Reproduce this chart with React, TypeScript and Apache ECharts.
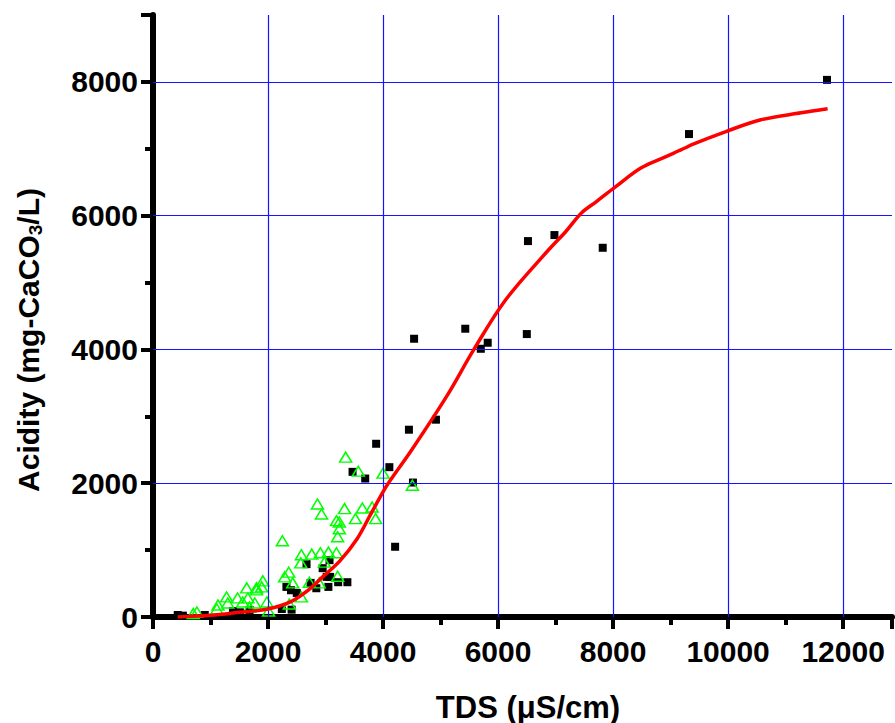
import { useEffect, useRef } from 'react';
import * as echarts from 'echarts';

const gridX = [2000, 4000, 6000, 8000, 10000, 12000];
const gridY = [2000, 4000, 6000, 8000];

const squares: [number, number][] = [
  [11720, 8030], [9320, 7220], [7820, 5520], [6980, 5710], [6520, 5620], [6500, 4230],
  [5820, 4100], [5700, 4010], [5430, 4310], [4540, 4160], [4920, 2950], [4450, 2800],
  [4520, 2010], [4110, 2240], [3880, 2590], [3690, 2070], [3470, 2170], [4210, 1050],
  [2670, 790], [2950, 730], [3070, 850], [3020, 600], [3080, 600], [3220, 520], [3380, 520],
  [3050, 450], [2840, 430], [2740, 510], [2320, 450], [2400, 400], [2500, 360], [2240, 120],
  [2410, 110], [1510, 70], [1390, 90], [1680, 105], [900, 30], [430, 30], [520, 20],
];

const triangles: [number, number][] = [
  [763, 75], [700, 50], [1110, 120], [1130, 180], [1280, 300], [1300, 210], [1470, 285],
  [1560, 225], [1630, 435], [1650, 285], [1680, 150], [1770, 210], [1800, 405], [1800, 435],
  [1890, 450], [1910, 540], [1980, 225], [2010, 90], [2290, 600], [2360, 670], [2370, 195],
  [2430, 510], [2580, 300], [2570, 810], [2580, 930], [2760, 940], [2910, 960], [3050, 970],
  [3190, 960], [2980, 820], [2890, 510], [2720, 520], [3210, 610], [2250, 1140], [3210, 1200],
  [3240, 1320], [3190, 1440], [3240, 1420], [3520, 1470], [3870, 1470], [2860, 1690],
  [2930, 1540], [3330, 1620], [3640, 1630], [3810, 1645], [3350, 2390], [3570, 2180],
  [4000, 2150], [4510, 1970],
];

const fitCurve: [number, number][] = [
  [430, 0], [1000, 25], [1500, 70], [2000, 120], [2400, 230], [2700, 400], [2950, 600],
  [3250, 840], [3550, 1170], [3800, 1560], [4000, 1870], [4100, 2010], [4500, 2500],
  [5100, 3290], [5580, 4000], [6130, 4740], [6880, 5490], [7175, 5760], [7450, 6040],
  [7710, 6210], [8040, 6430], [8490, 6716], [8910, 6880], [9260, 7015], [9360, 7060],
  [9950, 7254], [10570, 7433], [11270, 7538], [11730, 7598],
];

const FONT = "'Liberation Sans', Arial, sans-serif";

export default function App() {
  const ref = useRef<HTMLDivElement>(null);
  useEffect(() => {
    const chart = echarts.init(ref.current as HTMLDivElement, null, { renderer: 'svg' });
    const labelStyle = { fontFamily: FONT, fontWeight: 'bold' as const, fontSize: 30, color: '#000' };
    const minorAxis = (max: number, pos: string, margin: number) => ({
      type: 'value', min: 0, max, interval: 1000, position: pos,
      axisLine: { show: true, onZero: false, lineStyle: { color: '#000', width: 6 } },
      axisTick: { show: true, inside: false, length: 8, lineStyle: { color: '#000', width: 4 } },
      axisLabel: {
        ...labelStyle, margin,
        formatter: (v: number) => (v % 2000 === 0 ? String(v) : ''),
      },
      splitLine: { show: false },
    });
    const majorAxis = (max: number, pos: string) => ({
      type: 'value', min: 0, max, interval: 2000, position: pos, offset: 0,
      axisLine: { show: false, onZero: false },
      axisTick: { show: true, inside: false, length: 12, lineStyle: { color: '#000', width: 4 } },
      axisLabel: { show: false },
      splitLine: { show: false },
    });
    chart.setOption({
      animation: false,
      backgroundColor: '#fff',
      grid: { left: 153, top: 15, bottom: 106, right: 0, containLabel: false },
      xAxis: [minorAxis(12850, 'bottom', 19), majorAxis(12850, 'bottom')],
      yAxis: [minorAxis(9000, 'left', 15), majorAxis(9000, 'left')],
      graphic: [
        {
          type: 'text', x: 528, y: 707,
          style: { text: 'TDS (μS/cm)', font: `bold 31px ${FONT}`, fill: '#000', align: 'center', verticalAlign: 'middle' },
        },
        {
          type: 'text', x: 28, y: 340, rotation: Math.PI / 2,
          style: {
            text: '{a|Acidity (mg-CaCO}{s|3}{a|/L)}',
            align: 'center', verticalAlign: 'middle', fill: '#000',
            rich: {
              a: { fontFamily: FONT, fontWeight: 'bold', fontSize: 30, fill: '#000' },
              s: { fontFamily: FONT, fontWeight: 'bold', fontSize: 19, fill: '#000', padding: [14, 0, 0, 0] },
            },
          },
        },
      ],
      series: [
        {
          type: 'scatter', data: [], z: 1, silent: true,
          markLine: {
            silent: true, symbol: 'none', animation: false,
            label: { show: false },
            lineStyle: { color: '#1414ff', width: 1.2, type: 'solid' },
            emphasis: { disabled: true },
            data: [...gridX.map((v) => ({ xAxis: v })), ...gridY.map((v) => ({ yAxis: v }))],
          },
        },
        {
          type: 'scatter', data: squares, z: 3, symbol: 'rect', symbolSize: 8,
          itemStyle: { color: '#000', opacity: 1 },
        },
        {
          type: 'scatter', data: triangles, z: 4, symbol: 'triangle', symbolSize: [12, 10],
          itemStyle: { color: 'rgba(0,0,0,0)', borderColor: '#00ff00', borderWidth: 1.5, opacity: 1 },
        },
        {
          type: 'line', data: fitCurve, z: 5, smooth: 0.35, symbol: 'none',
          lineStyle: { color: '#ff0000', width: 3.5 },
        },
      ],
    });
    return () => chart.dispose();
  }, []);
  return (
    <div
      ref={ref}
      style={{ position: 'absolute', left: 0, top: 0, width: 895, height: 723, background: '#fff' }}
    />
  );
}
